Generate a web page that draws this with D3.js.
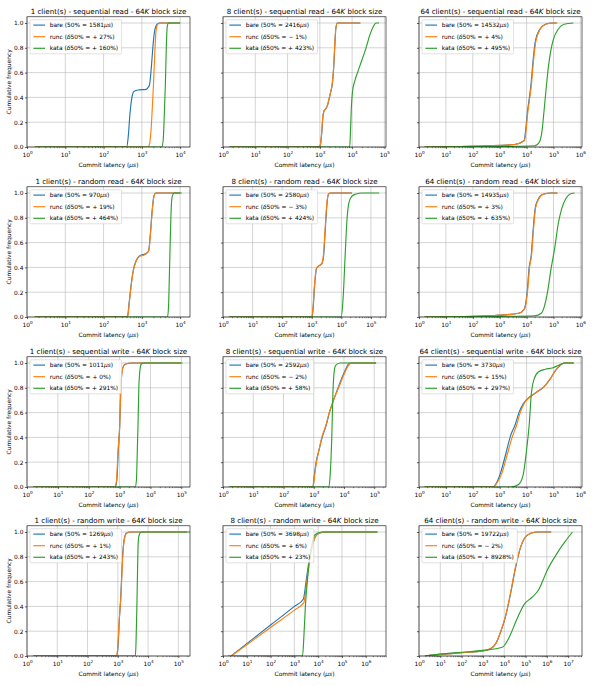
<!DOCTYPE html>
<html><head><meta charset="utf-8">
<script src="https://cdn.jsdelivr.net/npm/d3@7"></script>
<style>body{margin:0;background:#fff}</style>
</head><body><svg id="c" width="600" height="686"></svg>
<script>
// ---------- data ----------
const clients = [1, 8, 64];
const operations = ["sequential read", "random read", "sequential write", "random write"];
const bareMedian = [1581, 2416, 14532, 970, 2580, 14935, 1011, 2592, 3730, 1269, 3698, 19722];
const runcDelta = [27, -1, 4, 19, -3, 3, 0, -2, 15, 1, 6, -2];
const kataDelta = [160, 423, 495, 464, 424, 635, 291, 58, 297, 243, 23, 8928];
const xMax = [18100, 112000, 1150000, 18100, 324000, 1150000, 191000, 245000, 1150000, 243000, 7100000, 44700000];
const yTicks = [0, 0.2, 0.4, 0.6, 0.8, 1.0];

// [latency (µs), cumulative frequency]
const sr1_bare = [[1.6,0],[400,0],[440,0.08],[490,0.27],[550,0.4],[630,0.45],[800,0.46],[1300,0.465],[1450,0.48],[1580,0.5],[1700,0.58],[1850,0.72],[2000,0.85],[2200,0.95],[2500,0.99],[3000,1],[10000,1]];
const sr1_runc = [[1.6,0],[1450,0],[1600,0.03],[1750,0.15],[1900,0.35],[2010,0.5],[2150,0.72],[2300,0.9],[2500,0.98],[2900,1],[10000,1]];
const sr1_kata = [[1.6,0],[3300,0],[3600,0.05],[3850,0.25],[4110,0.5],[4350,0.8],[4600,0.97],[5000,1],[10000,1]];

const sr8_bare = [[1.6,0],[950,0],[1050,0.02],[1150,0.12],[1250,0.25],[1350,0.29],[1550,0.31],[1750,0.34],[1950,0.39],[2200,0.45],[2416,0.5],[2700,0.65],[2950,0.85],[3150,0.96],[3500,1],[18000,1]];
const sr8_runc = [[1.6,0],[940,0],[1040,0.02],[1140,0.12],[1240,0.25],[1340,0.29],[1540,0.31],[1730,0.34],[1930,0.39],[2180,0.45],[2392,0.5],[2680,0.65],[2930,0.85],[3130,0.96],[3500,1],[18000,1]];
const sr8_kata = [[1.6,0],[8400,0],[8800,0.1],[9400,0.3],[10300,0.45],[12000,0.53],[14700,0.6],[20000,0.7],[27000,0.8],[35000,0.9],[45000,0.97],[55000,1],[68000,1]];

const sr64_bare = [[1.6,0],[300,0.01],[3500,0.02],[8000,0.05],[11000,0.3],[14532,0.5],[17500,0.7],[21000,0.85],[31000,0.95],[50000,0.99],[90000,1],[130000,1]];
const sr64_runc = [[1.6,0],[300,0.01],[3500,0.02],[8300,0.05],[11400,0.3],[15100,0.5],[18200,0.7],[22000,0.85],[32000,0.95],[52000,0.99],[95000,1],[140000,1]];
const sr64_kata = [[1.6,0],[3000,0.005],[20000,0.01],[30000,0.04],[37000,0.12],[45000,0.3],[55000,0.5],[65000,0.65],[80000,0.78],[100000,0.87],[150000,0.95],[250000,0.99],[550000,1]];

const rr1_bare = [[1.6,0],[420,0],[460,0.1],[520,0.25],[600,0.38],[700,0.45],[850,0.49],[970,0.5],[1250,0.51],[1500,0.53],[1650,0.65],[1850,0.85],[2050,0.97],[2300,1],[10000,1]];
const rr1_runc = [[1.6,0],[425,0],[465,0.1],[525,0.25],[605,0.38],[710,0.45],[870,0.49],[1154,0.5],[1300,0.51],[1520,0.54],[1670,0.66],[1870,0.86],[2070,0.97],[2330,1],[10000,1]];
const rr1_kata = [[1.6,0],[4700,0],[5000,0.1],[5300,0.4],[5500,0.6],[5800,0.85],[6200,0.97],[7000,1],[11000,1]];

const rr8_bare = [[1.6,0],[1000,0],[1100,0.05],[1250,0.25],[1450,0.39],[1700,0.41],[2200,0.43],[2450,0.47],[2580,0.52],[2900,0.72],[3300,0.92],[3700,0.99],[4200,1],[23000,1]];
const rr8_runc = [[1.6,0],[980,0],[1080,0.05],[1230,0.25],[1420,0.39],[1680,0.41],[2150,0.43],[2400,0.47],[2520,0.52],[2850,0.72],[3250,0.92],[3650,0.99],[4150,1],[23000,1]];
const rr8_kata = [[1.6,0],[10000,0],[11500,0.15],[13500,0.5],[15500,0.78],[18000,0.92],[22000,0.97],[30000,0.99],[50000,1],[190000,1]];

const rr64_bare = [[1.6,0],[100,0.005],[1000,0.015],[5000,0.03],[8000,0.06],[10500,0.2],[12500,0.4],[14935,0.5],[17500,0.7],[21000,0.88],[27000,0.95],[40000,0.99],[85000,1],[140000,1]];
const rr64_runc = [[1.6,0],[100,0.005],[1000,0.015],[5000,0.03],[8200,0.06],[10800,0.2],[12900,0.4],[15380,0.5],[18000,0.7],[21600,0.88],[28000,0.95],[42000,0.99],[90000,1],[140000,1]];
const rr64_kata = [[1.6,0],[1000,0.005],[20000,0.01],[35000,0.03],[45000,0.08],[60000,0.2],[80000,0.38],[110000,0.55],[150000,0.75],[200000,0.87],[280000,0.95],[400000,0.99],[600000,1]];

const sw1_bare = [[1.6,0],[720,0],[810,0.05],[910,0.3],[1011,0.5],[1100,0.8],[1240,0.95],[1500,0.99],[2500,1],[98000,1]];
const sw1_runc = [[1.6,0],[690,0],[790,0.05],[895,0.3],[1011,0.5],[1100,0.8],[1240,0.95],[1500,0.99],[2500,1],[98000,1]];
const sw1_kata = [[1.6,0],[3200,0],[3500,0.05],[3800,0.35],[3953,0.5],[4200,0.8],[4600,0.95],[5000,0.99],[6000,1],[110000,1]];

const sw8_bare = [[1.6,0],[930,0],[1050,0.1],[1200,0.2],[1500,0.3],[1900,0.4],[2592,0.5],[3300,0.6],[4500,0.7],[6400,0.8],[8500,0.88],[11400,0.95],[14000,0.99],[17000,1],[115000,1]];
const sw8_runc = [[1.6,0],[950,0],[1080,0.1],[1230,0.2],[1500,0.3],[1850,0.4],[2540,0.5],[3250,0.6],[4500,0.7],[6600,0.8],[9000,0.88],[12000,0.95],[15000,0.99],[18000,1],[115000,1]];
const sw8_kata = [[1.6,0],[3100,0],[3500,0.1],[4000,0.45],[4300,0.75],[4700,0.92],[5300,0.98],[7500,1],[115000,1]];

const sw64_bare = [[1.6,0],[550,0],[700,0.02],[1100,0.12],[1700,0.27],[2600,0.42],[3730,0.5],[5200,0.6],[7500,0.67],[12000,0.72],[22000,0.76],[45000,0.81],[75000,0.87],[120000,0.94],[200000,0.99],[260000,1],[560000,1]];
const sw64_runc = [[1.6,0],[560,0],[720,0.02],[1200,0.11],[1900,0.26],[3000,0.41],[4290,0.5],[5800,0.6],[8000,0.67],[12500,0.72],[22000,0.76],[45000,0.81],[75000,0.87],[120000,0.94],[200000,0.99],[260000,1],[560000,1]];
const sw64_kata = [[1.6,0],[2600,0],[5000,0.02],[7500,0.1],[10000,0.3],[12500,0.5],[15000,0.75],[19000,0.87],[28000,0.93],[50000,0.95],[90000,0.96],[150000,0.98],[250000,1],[560000,1]];

const rw1_bare = [[1.6,0],[900,0],[1000,0.05],[1130,0.3],[1269,0.5],[1400,0.75],[1600,0.93],[1900,0.99],[2500,1],[190000,1]];
const rw1_runc = [[1.6,0],[880,0],[980,0.05],[1120,0.3],[1282,0.5],[1420,0.75],[1620,0.93],[1950,0.99],[2600,1],[190000,1]];
const rw1_kata = [[1.6,0],[3800,0],[4000,0.1],[4350,0.5],[4700,0.9],[5000,0.97],[6000,1],[240000,1]];

const rw8_bare = [[2.2,0],[10,0.1],[100,0.25],[1000,0.4],[2400,0.46],[3000,0.58],[4000,0.75],[5500,0.88],[7500,0.96],[11000,0.99],[20000,1],[3000000,1]];
const rw8_runc = [[2.2,0],[10,0.09],[100,0.23],[1000,0.37],[2500,0.43],[3100,0.55],[4000,0.72],[5500,0.87],[7500,0.96],[11000,0.99],[20000,1],[3000000,1]];
const rw8_kata = [[1.6,0],[2200,0],[2500,0.15],[2900,0.4],[3500,0.6],[4500,0.8],[5500,0.9],[7500,0.98],[14000,1],[3200000,1]];

const rw64_bare = [[1.9,0],[10,0.013],[100,0.027],[1000,0.04],[2300,0.06],[4000,0.1],[7000,0.2],[12000,0.33],[19722,0.5],[35000,0.72],[55000,0.86],[90000,0.95],[180000,0.99],[400000,1],[1600000,1]];
const rw64_runc = [[1.9,0],[10,0.013],[100,0.027],[1000,0.04],[2300,0.06],[4000,0.1],[6900,0.2],[11800,0.33],[19330,0.5],[34000,0.72],[54000,0.86],[88000,0.95],[175000,0.99],[400000,1],[1600000,1]];
const rw64_kata = [[1.9,0],[10,0.015],[100,0.03],[1000,0.045],[8000,0.07],[17000,0.15],[40000,0.3],[90000,0.42],[190000,0.47],[400000,0.53],[1100000,0.7],[2800000,0.82],[7000000,0.92],[16000000,1]];

const panelSeries = [
  [sr1_bare, sr1_runc, sr1_kata], [sr8_bare, sr8_runc, sr8_kata], [sr64_bare, sr64_runc, sr64_kata],
  [rr1_bare, rr1_runc, rr1_kata], [rr8_bare, rr8_runc, rr8_kata], [rr64_bare, rr64_runc, rr64_kata],
  [sw1_bare, sw1_runc, sw1_kata], [sw8_bare, sw8_runc, sw8_kata], [sw64_bare, sw64_runc, sw64_kata],
  [rw1_bare, rw1_runc, rw1_kata], [rw8_bare, rw8_runc, rw8_kata], [rw64_bare, rw64_runc, rw64_kata]
];
const seriesNames = ["bare", "runc", "kata"];
const seriesColors = ["#1f77b4", "#ff7f0e", "#2ca02c"];

// ---------- layout ----------
const FONT = "DejaVu Sans, sans-serif";
const colLeft = [27, 223, 419];
const plotW = 163;
const rowBottom = [147, 317, 487, 656];
const unitH = 124;
const yTop = 1.05;

const svg = d3.select("#c");
svg.append("rect").attr("width", 600).attr("height", 686).attr("fill", "#fff");
const defs = svg.append("defs");

function fmtDelta(v) { return (v < 0 ? "\u2212 " : "+ ") + Math.abs(v); }

for (let r = 0; r < 4; r++) {
  for (let c = 0; c < 3; c++) {
    const i = r * 3 + c;
    const left = colLeft[c], right = left + plotW;
    const bottom = rowBottom[r], top = bottom - yTop * unitH;
    const x = d3.scaleLog().domain([1, xMax[i]]).range([left, right]);
    const y = d3.scaleLinear().domain([0, yTop]).range([bottom, top]);
    const g = svg.append("g");

    const maxExp = Math.floor(Math.log10(xMax[i]) + 1e-9);
    const exps = d3.range(0, maxExp + 1);
    const majors = exps.map(e => Math.pow(10, e));
    const minors = [];
    exps.forEach(e => { for (let k = 2; k <= 9; k++) { const v = k * Math.pow(10, e); if (v <= xMax[i]) minors.push(v); } });

    // grid
    g.append("g").selectAll("line").data(majors).join("line")
      .attr("x1", d => x(d)).attr("x2", d => x(d)).attr("y1", top).attr("y2", bottom)
      .attr("stroke", "#b0b0b0").attr("stroke-width", 0.55);
    g.append("g").selectAll("line").data(yTicks).join("line")
      .attr("x1", left).attr("x2", right).attr("y1", d => y(d)).attr("y2", d => y(d))
      .attr("stroke", "#b0b0b0").attr("stroke-width", 0.55);

    // lines
    const cid = "clip" + i;
    defs.append("clipPath").attr("id", cid).append("rect")
      .attr("x", left).attr("y", top).attr("width", plotW).attr("height", bottom - top);
    const line = d3.line().x(d => x(d[0])).y(d => y(d[1])).curve(d3.curveMonotoneX);
    const lg = g.append("g").attr("clip-path", `url(#${cid})`);
    panelSeries[i].forEach((s, k) => {
      lg.append("path").attr("d", line(s)).attr("fill", "none")
        .attr("stroke", seriesColors[k]).attr("stroke-width", 1.15)
        .attr("stroke-linejoin", "round").attr("stroke-linecap", "butt");
    });

    // frame
    g.append("rect").attr("x", left).attr("y", top).attr("width", plotW).attr("height", bottom - top)
      .attr("fill", "none").attr("stroke", "#000").attr("stroke-width", 0.6);

    // x axis
    const xa = g.append("g").attr("transform", `translate(0,${bottom})`)
      .call(d3.axisBottom(x).tickValues(majors).tickSize(2.1).tickFormat(""));
    xa.select(".domain").remove();
    xa.selectAll(".tick line").attr("stroke", "#000").attr("stroke-width", 0.6);
    xa.selectAll(".tick text").remove();
    xa.selectAll(".tick").append("text")
      .attr("y", 10).attr("text-anchor", "middle").attr("font-family", FONT)
      .attr("font-size", 5.9).attr("fill", "#000")
      .each(function(d) {
        const t = d3.select(this);
        t.append("tspan").text("10");
        t.append("tspan").attr("dy", -2.6).attr("font-size", 4.2).text(Math.round(Math.log10(d)));
      });
    const xm = g.append("g").attr("transform", `translate(0,${bottom})`)
      .call(d3.axisBottom(x).tickValues(minors).tickSize(1.2).tickFormat(""));
    xm.select(".domain").remove();
    xm.selectAll(".tick line").attr("stroke", "#000").attr("stroke-width", 0.45);
    xm.selectAll(".tick text").remove();

    // y axis
    const ya = g.append("g").attr("transform", `translate(${left},0)`)
      .call(d3.axisLeft(y).tickValues(yTicks).tickSize(2.1).tickFormat(c === 0 ? d3.format(".1f") : () => ""));
    ya.select(".domain").remove();
    ya.selectAll(".tick line").attr("stroke", "#000").attr("stroke-width", 0.6);
    ya.selectAll(".tick text").attr("x", -3.6).attr("font-family", FONT).attr("font-size", 5.9).attr("fill", "#000");

    // axis labels
    const xl = g.append("text").attr("x", (left + right) / 2).attr("y", bottom + 19.5)
      .attr("text-anchor", "middle").attr("font-family", FONT).attr("font-size", 5.9).attr("fill", "#000");
    xl.append("tspan").text("Commit latency (");
    xl.append("tspan").attr("font-style", "italic").text("\u03bcs");
    xl.append("tspan").text(")");
    if (c === 0) {
      g.append("text").attr("transform", `translate(${11.3},${(top + bottom) / 2}) rotate(-90)`)
        .attr("text-anchor", "middle").attr("font-family", FONT).attr("font-size", 5.9).attr("fill", "#000")
        .text("Cumulative frequency");
    }

    // title
    const tt = g.append("text").attr("x", (left + right) / 2).attr("y", top - 3)
      .attr("text-anchor", "middle").attr("font-family", FONT).attr("font-size", 7.1).attr("fill", "#000");
    tt.append("tspan").text(`${clients[c]} client(s) - ${operations[r]} - 64`);
    tt.append("tspan").attr("font-style", "italic").text("K");
    tt.append("tspan").text(" block size");

    // legend
    const leg = g.append("g").attr("transform", `translate(${left + 3},${top + 3})`);
    const box = leg.append("rect").attr("x", 0).attr("y", 0).attr("rx", 1.2).attr("ry", 1.2)
      .attr("fill", "#fff").attr("fill-opacity", 0.8).attr("stroke", "#cccccc").attr("stroke-width", 0.6);
    let maxW = 0;
    seriesNames.forEach((nm, k) => {
      const cy = 5.3 + k * 11.6;
      leg.append("line").attr("x1", 3.3).attr("x2", 15).attr("y1", cy).attr("y2", cy)
        .attr("stroke", seriesColors[k]).attr("stroke-width", 1.15);
      const tx = leg.append("text").attr("x", 19.7).attr("y", cy + 2.1)
        .attr("font-family", FONT).attr("font-size", 5.9).attr("fill", "#000");
      if (k === 0) {
        tx.append("tspan").text(`bare (50% = ${bareMedian[i]}`);
        tx.append("tspan").attr("font-style", "italic").text("\u03bcs");
        tx.append("tspan").text(")");
      } else {
        const dv = k === 1 ? runcDelta[i] : kataDelta[i];
        tx.append("tspan").text(`${nm} (`);
        tx.append("tspan").attr("font-style", "italic").text("\u03b4");
        tx.append("tspan").text(`50% = ${fmtDelta(dv)}%)`);
      }
      maxW = Math.max(maxW, tx.node().getComputedTextLength());
    });
    box.attr("width", 19.7 + maxW + 3.5).attr("height", 34);
  }
}
</script>
</body></html>
